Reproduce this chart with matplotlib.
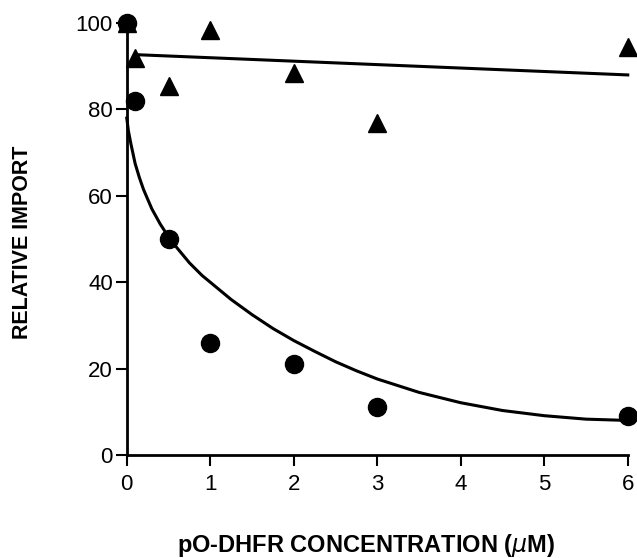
import matplotlib
matplotlib.use('Agg')
import matplotlib.pyplot as plt

# measured points
conc = [0, 0.1, 0.5, 1, 2, 3, 6]
tri_import = [100, 92, 85.5, 98.4, 88.5, 76.8, 94.4]
circ_import = [100, 82, 50, 26, 21, 11, 9]

# fitted lines
tri_fit_x = [0.1, 6]
tri_fit_y = [92.7, 88.0]
circ_fit_x = [0, 0.02, 0.05, 0.1, 0.15, 0.2, 0.3, 0.4, 0.5, 0.6, 0.75, 0.9, 1, 1.25, 1.5, 1.75, 2,
              2.25, 2.5, 2.75, 3, 3.5, 4, 4.5, 5, 5.5, 6]
circ_fit_y = [78, 75, 72, 67.5, 64.3, 61.5, 57, 53.5, 50.5, 48, 44.5, 41.6, 40, 36, 32.5, 29.3, 26.5,
              24, 21.6, 19.5, 17.6, 14.5, 12.1, 10.3, 9.1, 8.3, 8]

xticks = [0, 1, 2, 3, 4, 5, 6]
yticks = [0, 20, 40, 60, 80, 100]

plt.rcParams['font.family'] = ['Liberation Sans', 'DejaVu Sans']

fig = plt.figure(figsize=(6.37, 5.58), dpi=100)
ax = fig.add_axes([0.199, 0.1846, 0.7865, 0.774])

ax.plot(tri_fit_x, tri_fit_y, color='black', lw=2.2, clip_on=False)
ax.plot(circ_fit_x, circ_fit_y, color='black', lw=2.2, clip_on=False)
ax.plot(conc, tri_import, '^', color='black', ms=13, clip_on=False, zorder=3)
ax.plot(conc, circ_import, 'o', color='black', ms=13, clip_on=False, zorder=3)

ax.set_xlim(0, 6)
ax.set_ylim(0, 100)
ax.set_xticks(xticks)
ax.set_yticks(yticks)
ax.spines['top'].set_visible(False)
ax.spines['right'].set_visible(False)
ax.spines['left'].set_linewidth(2)
ax.spines['bottom'].set_linewidth(2)
ax.tick_params(axis='both', direction='out', length=8, width=1.5, labelsize=16)
ax.tick_params(axis='x', pad=6)
ax.tick_params(axis='y', pad=2)

fig.text(0.575, 0.022, r'pO-DHFR CONCENTRATION ($\mu$M)', ha='center', va='center',
         fontsize=17, fontweight='bold')
fig.text(0.035, 0.565, 'RELATIVE IMPORT', ha='center', va='center', rotation=90,
         fontsize=15.5, fontweight='bold')

fig.savefig('out.png', dpi=100)
